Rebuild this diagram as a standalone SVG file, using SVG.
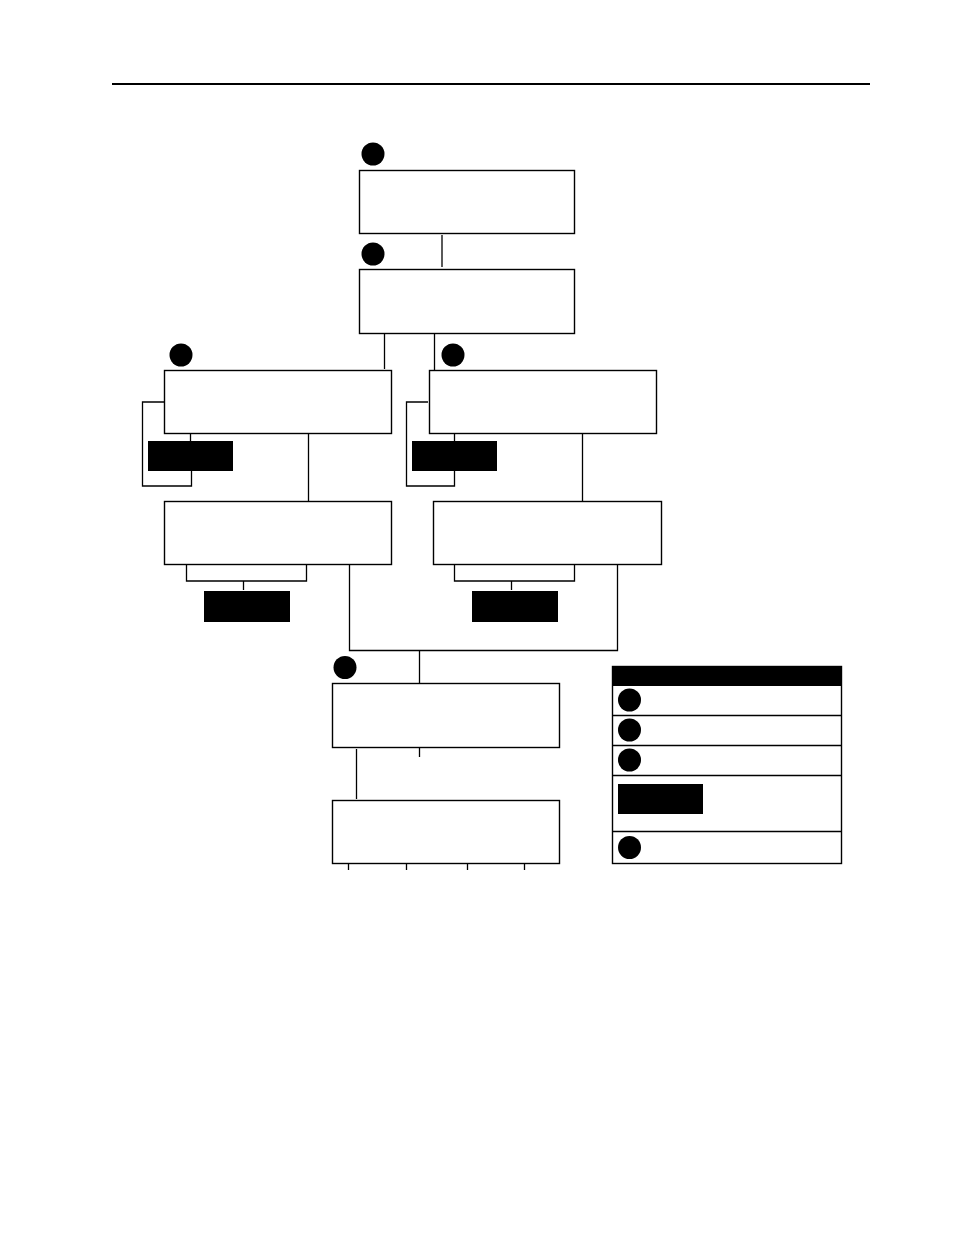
<svg xmlns="http://www.w3.org/2000/svg" width="954" height="1235" viewBox="0 0 954 1235">
<style>
.box{fill:#fff;stroke:#000;stroke-width:1.4}
.blk{fill:#000;stroke:none}
.dot{fill:#000}
.ln{fill:none;stroke:#000;stroke-width:1.3}
</style>
<rect x="0" y="0" width="954" height="1235" fill="#fff"/>
<line x1="112" y1="84" x2="870" y2="84" stroke="#000" stroke-width="2"/>
<g id="connectors" class="ln">
<path d="M442,235V267"/>
<path d="M384.5,333V369"/>
<path d="M434.5,333V370"/>
<path d="M164,402H142.5V486H191.5V471"/>
<path d="M190.5,433V441"/>
<path d="M428,402H406.5V486H454.5V471"/>
<path d="M454.5,433V441"/>
<path d="M308.5,434V501"/>
<path d="M582.5,433V501"/>
<path d="M186.5,564V581H306.5V564"/>
<path d="M243.5,581V590"/>
<path d="M454.5,564V581H574.5V564"/>
<path d="M511.5,581V590"/>
<path d="M349.5,564V650.5H617.5V564"/>
<path d="M419.5,650.5V683"/>
<path d="M419.5,747V757"/>
<path d="M356.5,749V799"/>
<path d="M348.5,864V870M406.5,864V870M467.5,864V870M524.5,864V870"/>
</g>
<g id="node1"><circle class="dot" cx="373" cy="154" r="11.5"/><rect class="box" x="359.5" y="170.5" width="215" height="63"/></g>
<g id="node2"><circle class="dot" cx="373" cy="254" r="11.5"/><rect class="box" x="359.5" y="269.5" width="215" height="64"/></g>
<g id="node3"><circle class="dot" cx="181" cy="355" r="11.5"/><rect class="box" x="164.5" y="370.5" width="227" height="63"/></g>
<g id="node4"><circle class="dot" cx="453" cy="355" r="11.5"/><rect class="box" x="429.5" y="370.5" width="227" height="63"/></g>
<g id="tag3"><rect class="blk" x="148" y="441" width="85" height="30"/></g>
<g id="tag4"><rect class="blk" x="412" y="441" width="85" height="30"/></g>
<g id="node5"><rect class="box" x="164.5" y="501.5" width="227" height="63"/></g>
<g id="node6"><rect class="box" x="433.5" y="501.5" width="228" height="63"/></g>
<g id="tag5"><rect class="blk" x="204" y="591" width="86" height="31"/></g>
<g id="tag6"><rect class="blk" x="472" y="591" width="86" height="31"/></g>
<g id="node7"><circle class="dot" cx="345" cy="667.5" r="11.5"/><rect class="box" x="332.5" y="683.5" width="227" height="64"/></g>
<g id="node8"><rect class="box" x="332.5" y="800.5" width="227" height="63"/></g>
<g id="legend">
<rect class="box" x="612.5" y="666.5" width="229" height="197"/>
<rect class="blk" x="612" y="666" width="230" height="20"/>
<g class="ln"><path d="M612.5,715.5H841.5M612.5,745.5H841.5M612.5,775.5H841.5M612.5,831.5H841.5"/></g>
<circle class="dot" cx="629.5" cy="700" r="11.5"/>
<circle class="dot" cx="629.5" cy="730" r="11.5"/>
<circle class="dot" cx="629.5" cy="760" r="11.5"/>
<rect class="blk" x="618" y="784" width="85" height="30"/>
<circle class="dot" cx="629.5" cy="847.5" r="11.5"/>
</g>
</svg>
